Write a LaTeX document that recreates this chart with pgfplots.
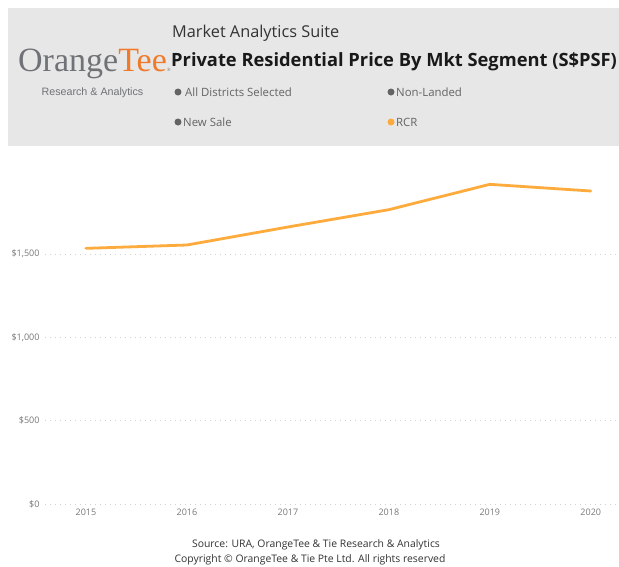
\documentclass[border=0pt]{standalone}
\usepackage{pgfplots}
\pgfplotsset{compat=1.18}
\usepackage{fontspec}
\setmainfont{Open Sans}
\newfontfamily\serifF{Liberation Serif}
\newfontfamily\arialF{Liberation Sans}
\definecolor{hdr}{RGB}{231,231,231}
\definecolor{ora}{RGB}{253,171,61}
\definecolor{logoor}{RGB}{240,122,42}
\definecolor{logogr}{RGB}{111,114,118}
\definecolor{lab}{RGB}{120,120,120}
\definecolor{dotc}{RGB}{100,100,100}
\begin{document}
\begin{tikzpicture}[x=1pt,y=1pt]
\useasboundingbox (0,0) rectangle (619,-566);
\fill[white] (0,0) rectangle (619,-566);
\fill[hdr] (8,-8) rectangle (619,-146);
% logo
\node[anchor=base west, inner sep=0] at (18,-71) {\serifF\fontsize{34}{34}\selectfont\textcolor{logogr}{Orange}\textcolor{logoor}{Tee}\textcolor{logogr}{\fontsize{5}{5}\selectfont\textregistered}};
\node[anchor=center, inner sep=0] at (92.5,-93) {\arialF\fontsize{10.7}{12}\selectfont\textcolor{logogr}{Research \& Analytics}};
% titles
\node[anchor=west, inner sep=0] at (172,-33) {\fontsize{16.3}{18}\selectfont\textcolor{black!80}{Market Analytics Suite}};
\node[anchor=west, inner sep=0] at (171,-62) {\fontsize{18.3}{21}\selectfont\bfseries\textcolor{black!90}{Private Residential Price By Mkt Segment (S\$PSF)}};
% legend-like filters
\fill[dotc] (178,-92) circle (3.5);
\node[anchor=west, inner sep=0] at (185,-92) {\fontsize{11.4}{13}\selectfont\textcolor{dotc}{All Districts Selected}};
\fill[dotc] (391,-92) circle (3.5);
\node[anchor=west, inner sep=0] at (396,-92) {\fontsize{11.4}{13}\selectfont\textcolor{dotc}{Non-Landed}};
\fill[dotc] (178,-122) circle (3.5);
\node[anchor=west, inner sep=0] at (183,-122) {\fontsize{11.4}{13}\selectfont\textcolor{dotc}{New Sale}};
\fill[ora] (391,-122) circle (3.5);
\node[anchor=west, inner sep=0] at (396,-122) {\fontsize{11.4}{13}\selectfont\textcolor{dotc}{RCR}};
\begin{axis}[
  at={(45pt,-504pt)}, anchor=south west,
  scale only axis, width=571pt, height=349pt,
  xmin=2014.594, xmax=2020.25, ymin=0, ymax=2094,
  axis line style={draw=none},
  major tick style={draw=none},
  xtick={2015,2016,2017,2018,2019,2020},
  xticklabels={2015,2016,2017,2018,2019,2020},
  ytick={0,500,1000,1500},
  yticklabels={\$0,\$500,{\$1,000},{\$1,500}},
  ymajorgrids,
  grid style={dash pattern=on 1pt off 4pt, line width=0.9pt, color=black!18},
  tick label style={font=\fontsize{9}{10}\selectfont, text=lab},
  yticklabel style={xshift=-2pt},
  xticklabel style={yshift=-1pt},
  clip=false,
]
\addplot[color=ora, line width=2.8pt, line join=round, line cap=round] coordinates {
  (2015,1534) (2016,1554) (2017,1662) (2018,1766) (2019,1918) (2020,1878)
};
\end{axis}
\node[anchor=center, inner sep=0] at (316,-545) {\fontsize{10.4}{12}\selectfont\textcolor{black!80}{Source: URA, OrangeTee \& Tie Research \& Analytics}};
\node[anchor=center, inner sep=0] at (310,-560) {\fontsize{10.4}{12}\selectfont\textcolor{black!80}{Copyright \textcopyright{} OrangeTee \& Tie Pte Ltd. All rights reserved}};
\end{tikzpicture}
\end{document}
